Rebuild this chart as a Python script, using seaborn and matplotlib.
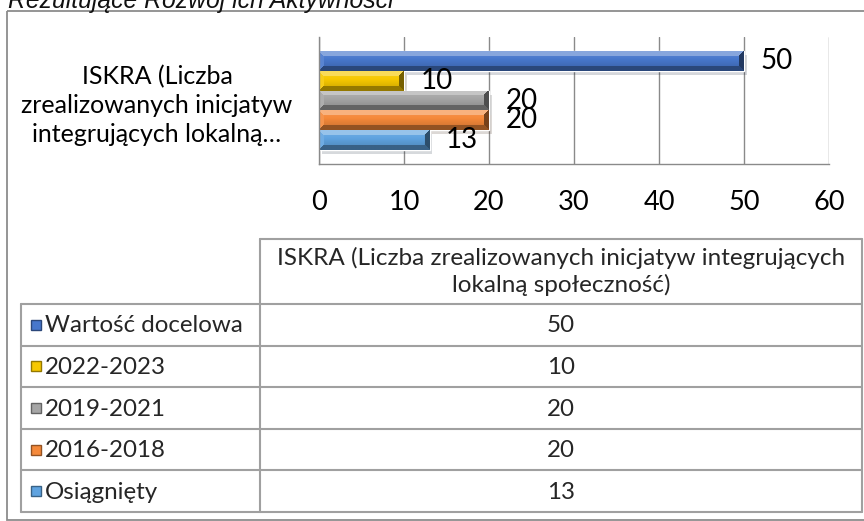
"""
Poziom realizacji wskaznika ISKRA - wykres slupkowy z tabela danych.
"""

import numpy as np
import pandas as pd
import seaborn as sns
import matplotlib.pyplot as plt
import matplotlib.patheffects as pe
from matplotlib.colors import to_rgb
from matplotlib.patches import Rectangle

# ---------- DATA
title = "Rezultujące Rozwój ich Aktywności"
category_full = "ISKRA (Liczba zrealizowanych inicjatyw integrujących\nlokalną społeczność)"
category_short = "ISKRA (Liczba\nzrealizowanych inicjatyw\nintegrujących lokalną…"
series = ["Wartość docelowa", "2022-2023", "2019-2021", "2016-2018", "Osiągnięty"]
values = [50, 10, 20, 20, 13]
colors = ["#4777CC", "#F7C800", "#A6A6A6", "#F5893A", "#5FA3E0"]
xticks = [0, 10, 20, 30, 40, 50, 60]

df = pd.DataFrame({"kategoria": [category_short] * len(series),
                   "okres": series,
                   "wartosc": values})


# ---------- HELPERS
def shade(base, f):
    # f < 1 darkens, f > 1 blends toward white
    if f >= 1:
        return base + (1 - base) * (f - 1)
    return base * f


def bevel_bar(ax, patch, color, bev=5):
    bb = patch.get_window_extent()
    w, h = max(int(round(bb.width)), 2), max(int(round(bb.height)), 2)
    base = np.array(to_rgb(color))
    yy, xx = np.mgrid[0:h, 0:w]
    # smooth vertical shading: lighter on top, darker below
    f = 1.12 - 0.3 * yy / (h - 1)
    d_top, d_bot = yy, h - 1 - yy
    d_right, d_left = w - 1 - xx, xx
    dmin = np.minimum(np.minimum(d_top, d_bot), np.minimum(d_right, d_left))
    f = np.where((dmin < bev) & (d_top == dmin), 1.35, f)
    f = np.where((dmin < bev) & (d_left == dmin) & (d_top != dmin), 1.1, f)
    f = np.where((dmin < bev) & (d_bot == dmin), 0.6, f)
    f = np.where((dmin < bev) & (d_right == dmin) & (d_bot != dmin), 0.48, f)
    img = np.zeros((h, w, 3))
    for v in np.unique(f):
        img[f == v] = np.clip(shade(base, v), 0, 1)
    x0, y0 = patch.get_x(), patch.get_y()
    x1, y1 = x0 + patch.get_width(), y0 + patch.get_height()
    im = ax.imshow(img, extent=(x0, x1, max(y0, y1), min(y0, y1)),
                   origin="upper", aspect="auto", interpolation="bilinear",
                   zorder=patch.get_zorder() + 0.1)
    im.set_clip_path(patch)


# ---------- FIGURE
sns.set_theme(style="white")
plt.rcParams["font.family"] = ["Lato", "DejaVu Sans"]

fig = plt.figure(figsize=(8.64, 5.21), dpi=100)
W, H = 864, 521

# background layer: frame, title, table
bg = fig.add_axes([0, 0, 1, 1], zorder=0)
bg.set_xlim(0, W)
bg.set_ylim(H, 0)
bg.axis("off")

bg.add_patch(Rectangle((7, 11), 900, 509, fill=False, edgecolor="#8C8C8C", lw=1.3))
bg.text(8, 8, title, fontsize=17.8, style="italic", family=["Liberation Sans", "DejaVu Sans"],
        ha="left", va="baseline", color="#111111")

# ---------- BAR CHART
ax = fig.add_axes([319 / W, 1 - 164 / H, 510 / W, 127 / H], zorder=2)
ax.patch.set_alpha(0)

sns.barplot(data=df, y="kategoria", x="wartosc", hue="okres",
            hue_order=series, palette=colors, orient="h",
            width=0.8, dodge=True, legend=False, ax=ax)

ax.set_xlim(0, 60)
ax.set_ylim(0.512, -0.512)
ax.set_xticks(xticks)
ax.set_xlabel("")
ax.set_ylabel("")
ax.grid(axis="x", color="#8A8A8A", lw=1)
ax.set_axisbelow(True)
for s in ["top", "right"]:
    ax.spines[s].set_visible(False)
for s in ["left", "bottom"]:
    ax.spines[s].set_color("#8A8A8A")
    ax.spines[s].set_linewidth(1)
ax.tick_params(axis="x", length=0, pad=19, labelsize=19.5, labelcolor="black")
ax.tick_params(axis="y", length=0, pad=19, labelsize=18, labelcolor="black")
for lab in ax.get_yticklabels():
    lab.set_multialignment("center")
    lab.set_linespacing(1.32)

fig.canvas.draw()
for cont, col in zip(ax.containers, colors):
    for bar in cont:
        bar.set_path_effects([pe.SimplePatchShadow(offset=(2, -3), alpha=0.18),
                              pe.Normal()])
        bevel_bar(ax, bar, col)
    ax.bar_label(cont, padding=12, fontsize=20, color="black")
ax.set_xlim(0, 60)
ax.set_ylim(0.512, -0.512)

# ---------- DATA TABLE
line_c = "#A0A0A0"
tl, tm, tr = 21, 260, 862
t_top, h_bot = 239, 304
row_h = (512 - h_bot) / len(series)
rows_y = [h_bot + i * row_h for i in range(len(series) + 1)]

bg.plot([tm, tr], [t_top, t_top], color=line_c, lw=1.5)
bg.plot([tm, tm], [t_top, rows_y[-1]], color=line_c, lw=1.5)
bg.plot([tr, tr], [t_top, rows_y[-1]], color=line_c, lw=1.5)
bg.plot([tl, tl], [h_bot, rows_y[-1]], color=line_c, lw=1.5)
for y in rows_y:
    bg.plot([tl, tr], [y, y], color=line_c, lw=1.5)

bg.text((tm + tr) / 2, (t_top + h_bot) / 2, category_full, fontsize=17.5,
        ha="center", va="center", multialignment="center", linespacing=1.3)

for i, (name, val, col) in enumerate(zip(series, values, colors)):
    yc = rows_y[i] + row_h / 2
    bg.add_patch(Rectangle((31, yc - 5), 10, 10, facecolor=col,
                           edgecolor=shade(np.array(to_rgb(col)), 0.6), lw=1))
    bg.text(45, yc + 1, name, fontsize=17.4, ha="left", va="center")
    bg.text((tm + tr) / 2, yc + 1, f"{val}", fontsize=17.4, ha="center", va="center")

fig.savefig("out.png", dpi=100)
